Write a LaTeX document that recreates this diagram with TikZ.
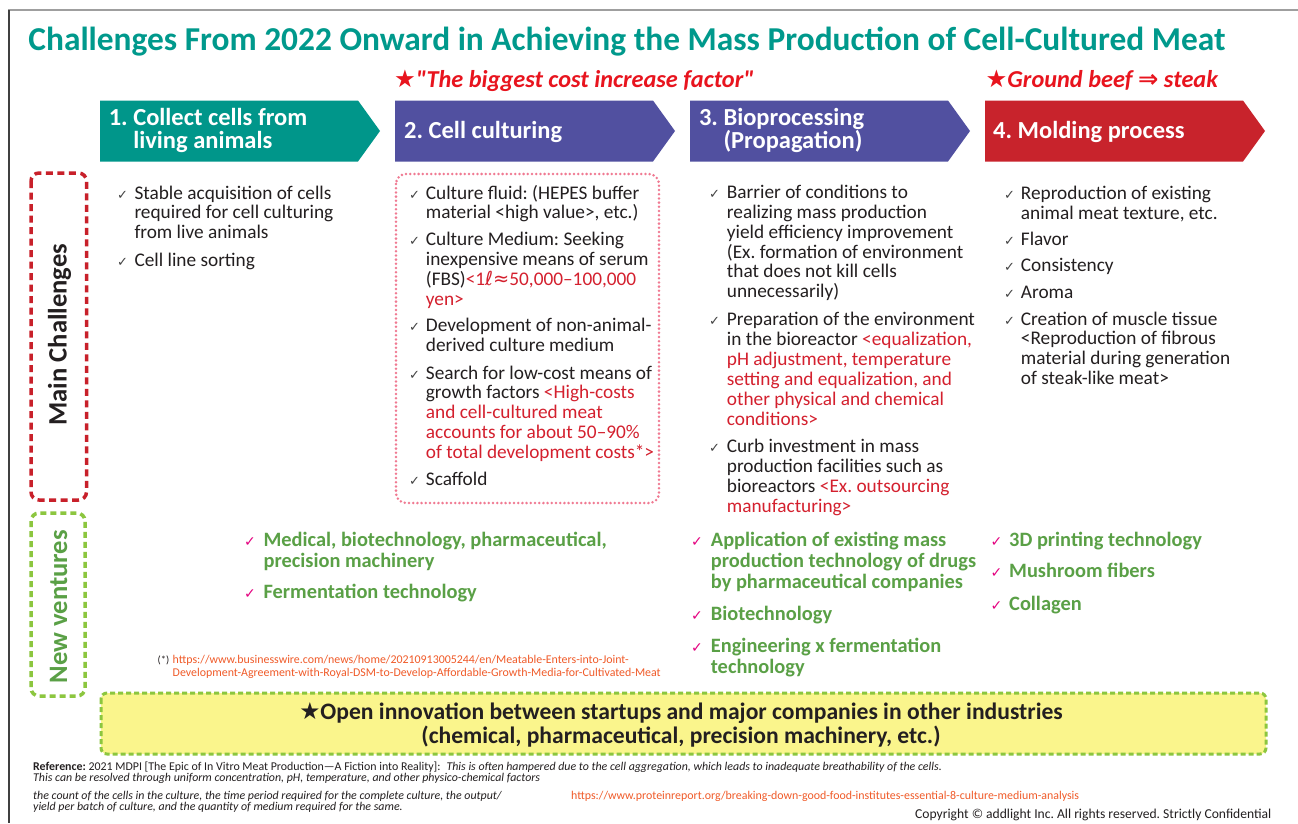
\documentclass[tikz,border=0pt]{standalone}
\usepackage{fontspec}
\setmainfont{Carlito}[Ligatures=TeXOff]
\newfontfamily\symfont{DejaVu Sans}
\frenchspacing
\definecolor{teal}{HTML}{00998C}
\definecolor{stepteal}{HTML}{00968A}
\definecolor{steppurple}{HTML}{5150A0}
\definecolor{stepred}{HTML}{C8232C}
\definecolor{hotred}{HTML}{E8141E}
\definecolor{notered}{HTML}{D4202E}
\definecolor{ink}{HTML}{231F20}
\definecolor{chkgray}{HTML}{444444}
\definecolor{nvgreen}{HTML}{5AA046}
\definecolor{lime}{HTML}{8CC63F}
\definecolor{pinkchk}{HTML}{E4007F}
\definecolor{pinkdot}{HTML}{F07A92}
\definecolor{boxred}{HTML}{C8202A}
\definecolor{softyellow}{HTML}{FAF58C}
\definecolor{urlorange}{HTML}{F05A28}
\newcommand\red[1]{\textcolor{notered}{#1}}
\tikzset{
  body/.style={font=\fontsize{19.3}{19.9}\selectfont, text=ink, inner sep=0pt, anchor=base west},
  venture/.style={font=\bfseries\fontsize{20.4}{21.2}\selectfont, text=nvgreen, inner sep=0pt, anchor=base west},
  tick/.style={font=\symfont\fontsize{13}{13}\selectfont, text=chkgray, inner sep=0pt, anchor=base west},
  pinktick/.style={font=\symfont\fontsize{14}{14}\selectfont, text=pinkchk, inner sep=0pt, anchor=base west},
  steplabel/.style={font=\bfseries\fontsize{24.5}{23.3}\selectfont, text=white, inner sep=0pt, anchor=base west},
  small/.style={font=\fontsize{11.9}{11.4}\selectfont, inner sep=0pt, anchor=base west},
}
% one checked item: name, tick x, text x, baseline y, style, tick style, lines
\newcommand\checkitem[7]{%
  \node[#6] (#1t) at (#2,#4) {✓};
  \node[#5] (#1) at (#3,#4) {\parbox[t]{420pt}{\raggedright #7}};
}
% one chevron step: left x, colour
\newcommand\chevron[2]{%
  \fill[#2] (#1,100.5) -- ++(258,0) -- ++(22,30.5) -- ++(-22,30.5) -- ++(-258,0) -- cycle;
}
\begin{document}
\begin{tikzpicture}[x=1pt,y=-1pt]
\useasboundingbox (0,0) rectangle (1298,823);
\fill[white] (0,0) rectangle (1298,823);
% page frame
\draw[gray!75, line width=1.6] (8,10) -- (1298,10);
\draw[black!75, line width=1.2] (9,10) -- (9,823);

% title
\node[font=\bfseries\fontsize{33.4}{33.4}\selectfont, text=teal, inner sep=0pt, anchor=base west] (title) at (28.2,50) {Challenges From 2022 Onward in Achieving the Mass Production of Cell-Cultured Meat};
\node[font=\bfseries\itshape\fontsize{24.3}{24.3}\selectfont, text=hotred, inner sep=0pt, anchor=base west] (cost) at (394,87.3) {{\symfont\upshape ★}"The biggest cost increase factor"};
\node[font=\bfseries\itshape\fontsize{24.3}{24.3}\selectfont, text=hotred, inner sep=0pt, anchor=base west] (beef) at (985.5,87.3) {{\symfont\upshape ★}Ground beef {\symfont\upshape ⇒} steak};

% process steps
\chevron{100}{stepteal}
\chevron{395}{steppurple}
\chevron{690}{steppurple}
\chevron{985}{stepred}
\node[steplabel] (s1) at (108.6,125) {\parbox[t]{260pt}{1. Collect cells from\\\phantom{1. }living animals}};
\node[steplabel] (s2) at (404,138.3) {2. Cell culturing};
\node[steplabel] (s3) at (698.8,125) {\parbox[t]{260pt}{3. Bioprocessing\\\phantom{3. }(Propagation)}};
\node[steplabel] (s4) at (993,138.3) {4. Molding process};

% row labels
\draw[boxred, line width=3.5, dash pattern=on 7pt off 4.5pt, rounded corners=8] (31,173) rectangle (86.5,500);
\node[rotate=90, anchor=base, inner sep=0pt, font=\bfseries\fontsize{26.6}{26.6}\selectfont, text=ink] (mainlab) at (66.7,334.7) {Main Challenges};
\draw[lime, line width=3.5, dash pattern=on 6pt off 4pt, rounded corners=8] (31,513) rectangle (85,696);
\node[rotate=90, anchor=base, inner sep=0pt, font=\bfseries\fontsize{26.6}{26.6}\selectfont, text=nvgreen] (newlab) at (67,606.7) {New ventures};

% cost-critical frame around step 2
\draw[pinkdot, line width=2.8, line cap=round, dash pattern=on 0pt off 4.2pt, rounded corners=10] (396,174) rectangle (659,503);

% step 1 challenges
\checkitem{c1a}{117}{134.3}{199}{body}{tick}{Stable acquisition of cells\\required for cell culturing\\from live animals}
\checkitem{c1b}{117}{134.3}{266}{body}{tick}{Cell line sorting}

% step 2 challenges
\checkitem{c2a}{409}{425.7}{199}{body}{tick}{Culture fluid: (HEPES buffer\\material <high value>, etc.)}
\checkitem{c2b}{409}{425.7}{245.7}{body}{tick}{Culture Medium: Seeking\\inexpensive means of serum\\(FBS)\red{<1{\symfont ℓ≈}50,000–100,000\\yen>}}
\checkitem{c2c}{409}{425.7}{331.7}{body}{tick}{Development of non-animal-\\derived culture medium}
\checkitem{c2d}{409}{425.7}{379}{body}{tick}{Search for low-cost means of\\growth factors \red{<High-costs\\and cell-cultured meat\\accounts for about 50–90\%\\of total development costs*>}}
\checkitem{c2e}{409}{425.7}{485}{body}{tick}{Scaffold}

% step 3 challenges
\checkitem{c3a}{709}{726.7}{198.3}{body}{tick}{Barrier of conditions to\\realizing mass production\\yield efficiency improvement\\(Ex. formation of environment\\that does not kill cells\\unnecessarily)}
\checkitem{c3b}{709}{726.7}{325.7}{body}{tick}{Preparation of the environment\\in the bioreactor \red{<equalization,\\pH adjustment, temperature\\setting and equalization, and\\other physical and chemical\\conditions>}}
\checkitem{c3c}{709}{726.7}{452.3}{body}{tick}{Curb investment in mass\\production facilities such as\\bioreactors \red{<Ex. outsourcing\\manufacturing>}}

% step 4 challenges
\checkitem{c4a}{1004}{1020.7}{199.3}{body}{tick}{Reproduction of existing\\animal meat texture, etc.}
\checkitem{c4b}{1004}{1020.7}{245}{body}{tick}{Flavor}
\checkitem{c4c}{1004}{1020.7}{271.7}{body}{tick}{Consistency}
\checkitem{c4d}{1004}{1020.7}{298.3}{body}{tick}{Aroma}
\checkitem{c4e}{1004}{1020.7}{325}{body}{tick}{Creation of muscle tissue\\<Reproduction of fibrous\\material during generation\\of steak-like meat>}

% new ventures
\checkitem{n1a}{244}{263.4}{546.7}{venture}{pinktick}{Medical, biotechnology, pharmaceutical,\\precision machinery}
\checkitem{n1b}{244}{263.4}{598.3}{venture}{pinktick}{Fermentation technology}
\checkitem{n3a}{691}{710.7}{546}{venture}{pinktick}{Application of existing mass\\production technology of drugs\\by pharmaceutical companies}
\checkitem{n3b}{691}{710.7}{620.7}{venture}{pinktick}{Biotechnology}
\checkitem{n3c}{691}{710.7}{652.7}{venture}{pinktick}{Engineering x fermentation\\technology}
\checkitem{n4a}{990.5}{1009}{546.7}{venture}{pinktick}{3D printing technology}
\checkitem{n4b}{990.5}{1009}{577.7}{venture}{pinktick}{Mushroom fibers}
\checkitem{n4c}{990.5}{1009}{610}{venture}{pinktick}{Collagen}

% source of the growth-factor figure
\node[small, text=ink, font=\fontsize{10.5}{10.5}\selectfont] (star) at (157.5,663) {(*)};
\node[small, text=urlorange, font=\fontsize{11.9}{13.8}\selectfont] (bwurl) at (172.5,663) {\parbox[t]{600pt}{https://www.businesswire.com/news/home/20210913005244/en/Meatable-Enters-into-Joint-\\Development-Agreement-with-Royal-DSM-to-Develop-Affordable-Growth-Media-for-Cultivated-Meat}};

% conclusion banner
\draw[lime, fill=softyellow, line width=3, dash pattern=on 5pt off 3pt, rounded corners=6] (101,693) rectangle (1266,754);
\node[font=\bfseries\fontsize{23.6}{24}\selectfont, text=ink, inner sep=0pt, anchor=base] (banner) at (681,719.3) {\parbox[t]{1100pt}{\centering {\symfont ★}Open innovation between startups and major companies in other industries\\(chemical, pharmaceutical, precision machinery, etc.)}};

% references
\node[small, text=ink] (ref1) at (33,770) {\parbox[t]{1000pt}{\textbf{Reference:} 2021 MDPI [The Epic of In Vitro Meat Production—A Fiction into Reality]:\enspace\textit{This is often hampered due to the cell aggregation, which leads to inadequate breathability of the cells.}\\\textit{This can be resolved through uniform concentration, pH, temperature, and other physico-chemical factors}}};
\node[small, text=ink, font=\itshape\fontsize{11.9}{11.4}\selectfont] (ref2) at (33,799.3) {\parbox[t]{700pt}{the count of the cells in the culture, the time period required for the complete culture, the output/\\yield per batch of culture, and the quantity of medium required for the same.}};
\node[small, text=urlorange] (prurl) at (571,799.3) {https://www.proteinreport.org/breaking-down-good-food-institutes-essential-8-culture-medium-analysis};
\node[small, text=ink, font=\fontsize{13.6}{13.6}\selectfont] (copy) at (915,818) {Copyright © addlight Inc. All rights reserved. Strictly Confidential};
\end{tikzpicture}
\end{document}
